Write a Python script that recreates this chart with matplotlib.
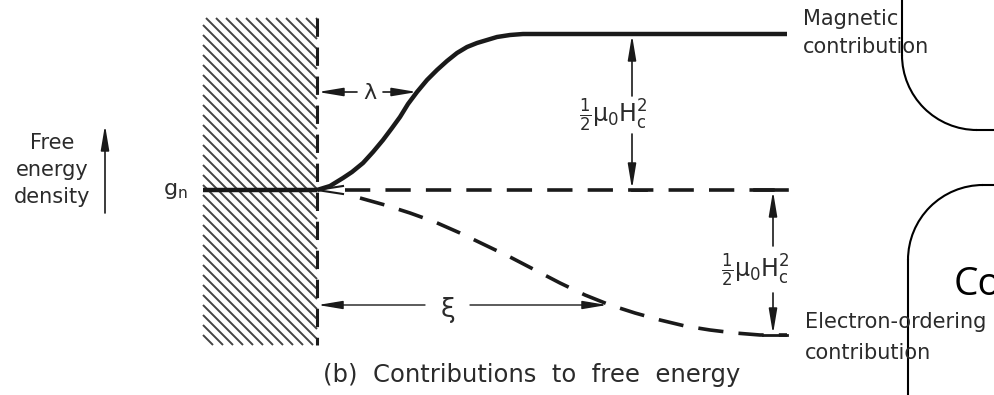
import numpy as np
import matplotlib
matplotlib.use("Agg")
import matplotlib.pyplot as plt
from matplotlib.patches import FancyArrowPatch, Arc

plt.rcParams["mathtext.default"] = "regular"

# --- diagram geometry (drawing units = pixels, y grows downward) ---
wall_left, wall_x = 203, 317          # superconductor surface at wall_x
wall_top, wall_bottom = 18, 345
g_n = 190                             # normal-state free energy density
mag_level = 34                        # magnetic contribution far from surface
el_level = 335                        # electron-ordering contribution far inside
x_end = 787

# magnetic contribution: rises over the penetration depth lambda
mag_x = [317, 330, 343, 352, 363, 373, 383, 392, 400, 408, 417, 427, 437,
         447, 457, 467, 477, 487, 497, 510, 523, 550, 787]
mag_y = [190, 186, 178, 172, 163, 152, 140, 128, 117, 104, 92, 80, 70,
         61, 53, 47, 43, 40, 37, 35, 34, 34, 34]

# electron-ordering contribution: falls over the coherence length xi
el_x = [360, 385, 410, 435, 460, 485, 510, 535, 560, 585, 610, 635, 660,
        685, 710, 735, 760, 787]
el_y = [198, 205, 213, 222, 233, 245, 257, 270, 283, 295, 305, 313, 320,
        326, 330, 333, 335, 335]

lam_y, lam_end = 92, 417
xi_y, xi_end = 305, 607
arrow1_x = 632
arrow2_x = 773

ink = "#1a1a1a"
txt = "#2b2b2b"
fs = 15

fig = plt.figure(figsize=(9.94, 3.95), dpi=100)
ax = fig.add_axes([0, 0, 1, 1])
ax.set_xlim(0, 994)
ax.set_ylim(395, 0)
ax.axis("off")

# hatched superconductor region (45 degree lines clipped to the wall)
step = 10
height = wall_bottom - wall_top
for x0 in np.arange(wall_left - height, wall_x + step, step):
    t0 = max(0.0, (wall_left - x0) / height)
    t1 = min(1.0, (wall_x - x0) / height)
    if t1 <= t0:
        continue
    px = x0 + np.array([t0, t1]) * height
    py = wall_top + np.array([t0, t1]) * height
    ax.plot(px, py, color="#444444", lw=1.4, solid_capstyle="butt")

# dashed surface line
ax.plot([wall_x, wall_x], [wall_top, wall_bottom], color=ink, lw=2.2,
        dashes=(6, 3.5))

# g_n level inside the wall
ax.plot([wall_left, wall_x], [g_n, g_n], color=ink, lw=3.2, solid_capstyle="butt")

# magnetic contribution curve
ax.plot(mag_x, mag_y, color=ink, lw=3.2, solid_joinstyle="round",
        solid_capstyle="butt")

# g_n reference (dashed) and electron-ordering curve (dashed)
ax.plot([345, x_end], [g_n, g_n], color=ink, lw=2.6, dashes=(7, 4.2))
ax.plot(el_x, el_y, color=ink, lw=2.6, dashes=(7, 4.2))
ax.plot([317, 343], [190, 186], color=ink, lw=1.5)
ax.plot([317, 343], [190, 194], color=ink, lw=1.5)


def arrow(x0, y0, x1, y1, lw=1.2):
    a = FancyArrowPatch((x0, y0), (x1, y1),
                        arrowstyle="-|>,head_length=1.5,head_width=0.25",
                        mutation_scale=10, lw=lw, color=ink,
                        shrinkA=0, shrinkB=0)
    ax.add_patch(a)


# lambda
arrow(357, lam_y, wall_x + 1, lam_y)
arrow(383, lam_y, lam_end, lam_y)
ax.text(370, lam_y + 1, "λ", ha="center", va="center", fontsize=16, color=txt)

# xi
arrow(425, xi_y, wall_x + 1, xi_y, lw=1.0)
arrow(470, xi_y, xi_end, xi_y, lw=1.0)
ax.text(448, xi_y + 5, "ξ", ha="center", va="center", fontsize=19, color=txt)

# magnetic energy difference
arrow(arrow1_x, 96, arrow1_x, mag_level + 1)
arrow(arrow1_x, 134, arrow1_x, g_n - 1)
ax.plot([arrow1_x, arrow1_x + 14], [g_n, g_n], color=ink, lw=2)
ax.text(613, 115, r"$\frac{1}{2}\mu_0 H_c^2$", ha="center", va="center",
        fontsize=17, color=txt)

# condensation energy difference
arrow(arrow2_x, 246, arrow2_x, g_n + 1)
arrow(arrow2_x, 293, arrow2_x, el_level - 1)
ax.plot([arrow2_x - 10, x_end], [el_level, el_level], color=ink, lw=2)
ax.plot([arrow2_x - 18, x_end], [g_n, g_n], color=ink, lw=2.6)
ax.text(755, 270, r"$\frac{1}{2}\mu_0 H_c^2$", ha="center", va="center",
        fontsize=17, color=txt)

# axis label with upward arrow
for yy, s in zip([143, 170, 197], ["Free", "energy", "density"]):
    ax.text(52, yy, s, ha="center", va="center", fontsize=fs, color=txt)
arrow(105, 213, 105, 125)
ax.text(175, 191, r"$g_n$", ha="center", va="center", fontsize=16, color=txt)

# curve labels
ax.text(803, 19, "Magnetic", ha="left", va="center", fontsize=fs, color=txt)
ax.text(803, 47, "contribution", ha="left", va="center", fontsize=fs, color=txt)
ax.text(805, 322, "Electron-ordering", ha="left", va="center", fontsize=fs,
        color=txt)
ax.text(805, 353, "contribution", ha="left", va="center", fontsize=fs, color=txt)

# caption
ax.text(532, 375, "(b)  Contributions  to  free  energy", ha="center",
        va="center", fontsize=17.5, color=txt)

# slide shapes on the right
r = 75
ax.plot([902, 902], [0, 55], color="black", lw=1.5)
ax.add_patch(Arc((902 + r, 55), 2 * r, 2 * r, theta1=90, theta2=180,
                 color="black", lw=1.5))
ax.plot([902 + r, 994], [55 + r, 55 + r], color="black", lw=1.5)

ax.plot([908, 908], [395, 260], color="black", lw=1.5)
ax.add_patch(Arc((908 + r, 260), 2 * r, 2 * r, theta1=180, theta2=270,
                 color="black", lw=1.5))
ax.plot([908 + r, 994], [260 - r, 260 - r], color="black", lw=1.5)

ax.text(954, 295, "Co", ha="left", va="baseline", fontsize=28,
        family="Open Sans", color="black")

fig.savefig("out.png", dpi=100)
